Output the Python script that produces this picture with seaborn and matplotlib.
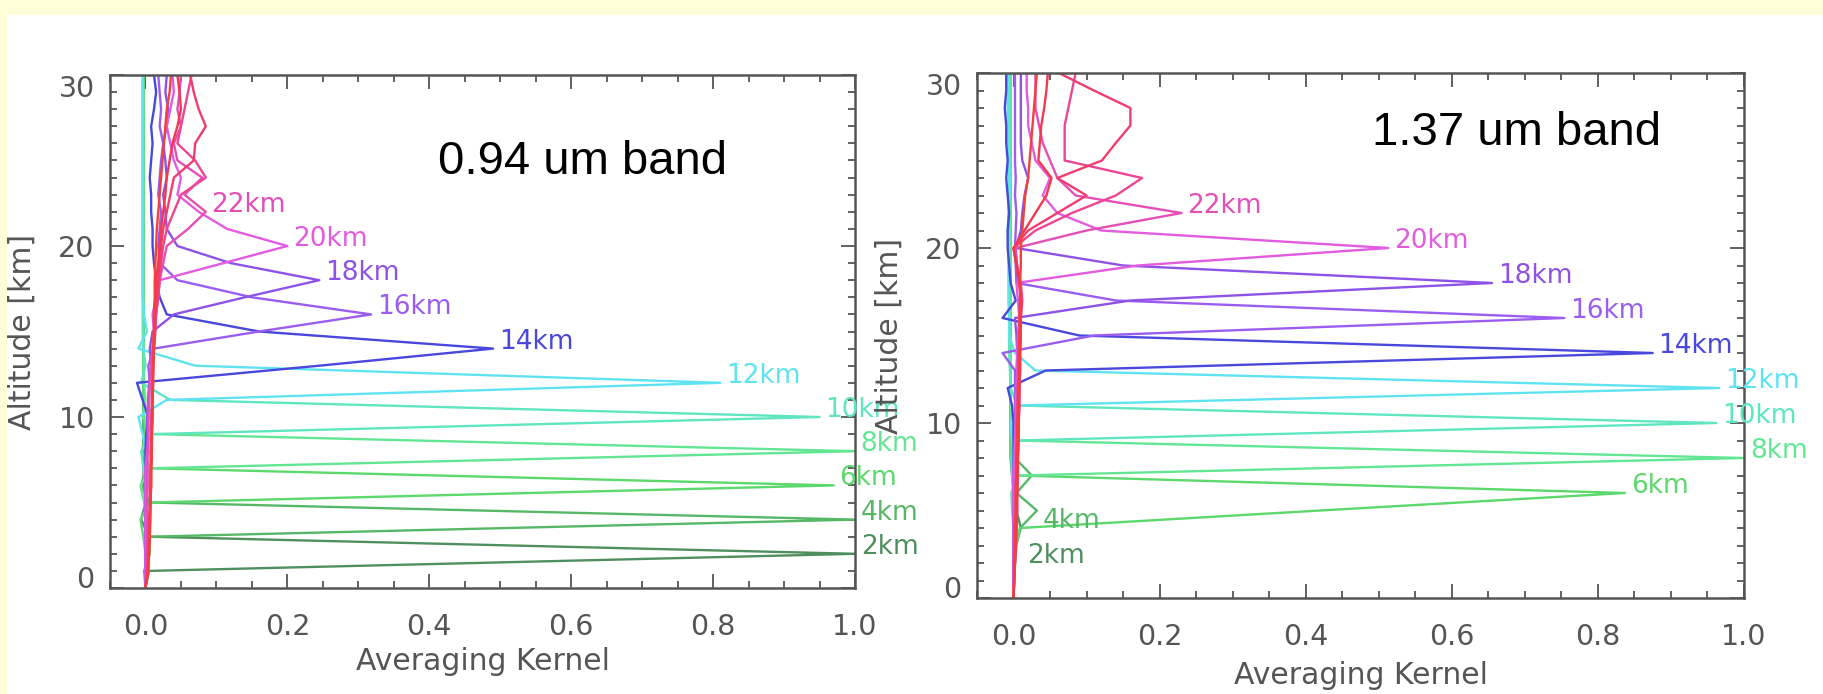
import matplotlib
matplotlib.use("Agg")
import matplotlib.pyplot as plt
from matplotlib.patches import Rectangle
from matplotlib.ticker import MultipleLocator, FixedLocator
import numpy as np
import pandas as pd
import seaborn as sns

# ---------------------------------------------------------------------------
# Averaging kernels on a 1 km altitude grid (0 ... 30 km)
# ---------------------------------------------------------------------------
altitude_km = list(range(31))
retrieval_levels = [2, 4, 6, 8, 10, 12, 14, 16, 18, 20, 22, 24, 26, 28, 30]
labelled_levels = [2, 4, 6, 8, 10, 12, 14, 16, 18, 20, 22]

# 0.94 um band
ak094_02 = [0.000, 0.005, 1.000, 0.005, -0.006, 0.000, -0.002, -0.003, -0.003, -0.003,
            -0.003, -0.003, -0.003, -0.003, -0.003, -0.003, -0.003, -0.003, -0.003, -0.003,
            -0.003, -0.003, -0.003, -0.003, -0.003, -0.003, -0.003, -0.003, -0.003, -0.003, -0.003]
ak094_04 = [0.000, -0.002, 0.006, 0.005, 1.000, 0.006, -0.006, 0.000, -0.002, -0.003,
            -0.003, -0.003, -0.003, -0.003, -0.003, -0.003, -0.003, -0.003, -0.003, -0.003,
            -0.003, -0.003, -0.003, -0.003, -0.003, -0.003, -0.003, -0.003, -0.003, -0.003, -0.003]
ak094_06 = [0.000, 0.000, 0.000, -0.003, -0.007, 0.006, 0.970, 0.007, -0.005, 0.000,
            -0.002, -0.003, -0.003, -0.003, -0.003, -0.003, -0.003, -0.003, -0.003, -0.003,
            -0.003, -0.003, -0.003, -0.003, -0.003, -0.003, -0.003, -0.003, -0.003, -0.003, -0.003]
ak094_08 = [0.000, 0.000, 0.000, 0.000, 0.001, -0.002, -0.007, 0.007, 1.000, 0.010,
            -0.004, 0.000, -0.002, -0.003, -0.003, -0.003, -0.003, -0.003, -0.003, -0.003,
            -0.003, -0.003, -0.003, -0.003, -0.003, -0.003, -0.003, -0.003, -0.003, -0.003, -0.003]
ak094_10 = [0.000, 0.000, 0.000, 0.000, 0.000, 0.000, 0.001, -0.003, -0.006, 0.010,
            0.950, 0.035, -0.006, 0.000, -0.003, -0.004, -0.004, -0.004, -0.004, -0.004,
            -0.004, -0.004, -0.004, -0.004, -0.004, -0.004, -0.004, -0.004, -0.004, -0.004, -0.004]
ak094_12 = [0.000, 0.000, 0.000, 0.000, 0.000, 0.000, 0.000, 0.000, 0.001, -0.004,
            -0.010, 0.030, 0.810, 0.070, -0.010, 0.002, -0.002, -0.004, -0.004, -0.004,
            -0.004, -0.004, -0.004, -0.004, -0.004, -0.004, -0.004, -0.004, -0.004, -0.004, -0.004]
ak094_14 = [0.000, 0.000, 0.000, 0.000, 0.000, 0.000, 0.000, 0.000, 0.000, 0.001,
            0.004, -0.004, -0.012, 0.245, 0.490, 0.160, 0.030, 0.020, 0.015, 0.012,
            0.010, 0.010, 0.008, 0.008, 0.006, 0.008, 0.010, 0.008, 0.012, 0.015, 0.012]
ak094_16 = [0.000, 0.000, 0.000, 0.000, 0.000, 0.000, 0.000, 0.000, 0.002, 0.003,
            0.002, 0.004, 0.006, 0.004, 0.012, 0.160, 0.318, 0.150, 0.045, 0.020,
            0.018, 0.020, 0.022, 0.018, 0.020, 0.022, 0.025, 0.020, 0.022, 0.020, 0.018]
ak094_18 = [0.000, 0.000, 0.000, 0.000, 0.000, 0.000, 0.000, 0.000, 0.002, 0.003,
            0.003, 0.004, 0.005, 0.008, 0.006, 0.010, 0.040, 0.140, 0.245, 0.120,
            0.045, 0.030, 0.028, 0.025, 0.030, 0.028, 0.025, 0.030, 0.032, 0.028, 0.030]
ak094_20 = [0.000, 0.000, 0.000, 0.000, 0.000, 0.000, 0.000, 0.000, 0.003, 0.004,
            0.004, 0.005, 0.006, 0.008, 0.010, 0.012, 0.010, 0.015, 0.020, 0.110,
            0.200, 0.115, 0.075, 0.045, 0.050, 0.040, 0.035, 0.030, 0.035, 0.040, 0.038]
ak094_22 = [0.000, 0.001, 0.001, 0.002, 0.002, 0.002, 0.003, 0.003, 0.003, 0.004,
            0.004, 0.005, 0.006, 0.008, 0.010, 0.012, 0.015, 0.018, 0.020, 0.025,
            0.030, 0.060, 0.085, 0.055, 0.080, 0.045, 0.040, 0.050, 0.045, 0.048, 0.050]
ak094_24 = [0.000, 0.002, 0.003, 0.004, 0.005, 0.006, 0.006, 0.007, 0.007, 0.008,
            0.008, 0.009, 0.010, 0.010, 0.012, 0.014, 0.015, 0.018, 0.020, 0.022,
            0.025, 0.030, 0.040, 0.050, 0.085, 0.070, 0.045, 0.050, 0.055, 0.060, 0.065]
ak094_26 = [0.000, 0.003, 0.004, 0.005, 0.006, 0.007, 0.007, 0.008, 0.008, 0.009,
            0.009, 0.010, 0.010, 0.011, 0.012, 0.013, 0.014, 0.016, 0.018, 0.020,
            0.022, 0.025, 0.030, 0.035, 0.040, 0.068, 0.070, 0.085, 0.075, 0.068, 0.063]
ak094_28 = [0.000, 0.004, 0.005, 0.006, 0.006, 0.007, 0.008, 0.008, 0.009, 0.009,
            0.010, 0.010, 0.011, 0.011, 0.012, 0.012, 0.013, 0.014, 0.015, 0.018,
            0.020, 0.022, 0.025, 0.028, 0.030, 0.034, 0.038, 0.045, 0.050, 0.048, 0.045]
ak094_30 = [0.000, 0.004, 0.005, 0.006, 0.007, 0.007, 0.008, 0.008, 0.009, 0.009,
            0.010, 0.010, 0.010, 0.011, 0.011, 0.012, 0.012, 0.013, 0.013, 0.014,
            0.015, 0.016, 0.018, 0.020, 0.022, 0.024, 0.026, 0.028, 0.030, 0.034, 0.036]

# 1.37 um band
ak137_02 = [0.000, 0.000, 0.001, 0.003, 0.010, 0.004, 0.000, -0.002, -0.004, -0.004,
            -0.004, -0.004, -0.004, -0.004, -0.004, -0.004, -0.004, -0.004, -0.004, -0.004,
            -0.004, -0.004, -0.004, -0.004, -0.004, -0.004, -0.004, -0.004, -0.004, -0.004, -0.004]
ak137_04 = [0.000, 0.000, 0.002, 0.004, 0.009, 0.032, 0.004, 0.025, 0.002, -0.003,
            -0.004, -0.004, -0.004, -0.004, -0.004, -0.004, -0.004, -0.004, -0.004, -0.004,
            -0.004, -0.004, -0.004, -0.004, -0.004, -0.004, -0.004, -0.004, -0.004, -0.004, -0.004]
ak137_06 = [0.000, 0.000, 0.000, 0.002, 0.009, 0.420, 0.837, 0.005, -0.004, -0.003,
            -0.004, -0.004, -0.004, -0.004, -0.004, -0.004, -0.004, -0.004, -0.004, -0.004,
            -0.004, -0.004, -0.004, -0.004, -0.004, -0.004, -0.004, -0.004, -0.004, -0.004, -0.004]
ak137_08 = [0.000, 0.000, 0.000, 0.000, 0.000, -0.002, -0.003, 0.005, 1.000, 0.005,
            -0.003, -0.004, -0.004, -0.004, -0.004, -0.004, -0.004, -0.004, -0.004, -0.004,
            -0.004, -0.004, -0.004, -0.004, -0.004, -0.004, -0.004, -0.004, -0.004, -0.004, -0.004]
ak137_10 = [0.000, 0.000, 0.000, 0.000, 0.000, 0.000, 0.000, -0.002, -0.003, 0.005,
            0.962, 0.005, -0.004, -0.005, -0.006, -0.006, -0.006, -0.006, -0.006, -0.006,
            -0.006, -0.006, -0.006, -0.006, -0.006, -0.006, -0.006, -0.006, -0.006, -0.006, -0.006]
ak137_12 = [0.000, 0.000, 0.000, 0.000, 0.000, 0.000, 0.000, 0.000, 0.000, -0.002,
            -0.004, 0.005, 0.966, 0.030, 0.002, -0.006, -0.006, -0.007, -0.007, -0.007,
            -0.007, -0.008, -0.007, -0.006, -0.005, -0.006, -0.007, -0.008, -0.008, -0.008, -0.008]
ak137_14 = [0.000, 0.000, 0.000, 0.000, 0.000, 0.000, 0.000, 0.000, 0.000, 0.000,
            0.000, -0.002, -0.008, 0.044, 0.875, 0.090, -0.015, 0.003, -0.004, -0.006,
            -0.008, -0.008, -0.006, -0.008, -0.010, -0.008, -0.010, -0.010, -0.012, -0.010, -0.010]
ak137_16 = [0.000, 0.000, 0.000, 0.000, 0.000, 0.000, 0.000, 0.000, 0.001, 0.002,
            0.002, 0.002, 0.002, 0.002, -0.015, 0.110, 0.754, 0.140, 0.004, 0.003,
            0.002, 0.003, 0.004, 0.002, 0.003, 0.002, 0.002, 0.002, 0.002, 0.002, 0.002]
ak137_18 = [0.000, 0.000, 0.000, 0.000, 0.000, 0.000, 0.000, 0.000, 0.001, 0.002,
            0.003, 0.003, 0.004, 0.004, 0.005, 0.004, 0.002, 0.160, 0.655, 0.150,
            0.003, 0.010, 0.012, 0.015, 0.020, 0.012, 0.010, 0.010, 0.010, 0.010, 0.010]
ak137_20 = [0.000, 0.000, 0.000, 0.000, 0.000, 0.000, 0.000, 0.000, 0.001, 0.002,
            0.003, 0.003, 0.004, 0.005, 0.005, 0.006, 0.008, 0.006, 0.004, 0.170,
            0.513, 0.120, 0.060, 0.040, 0.050, 0.030, 0.025, 0.020, 0.020, 0.018, 0.018]
ak137_22 = [0.000, 0.000, 0.000, 0.001, 0.001, 0.002, 0.002, 0.003, 0.003, 0.004,
            0.004, 0.005, 0.006, 0.006, 0.007, 0.008, 0.008, 0.010, 0.008, 0.005,
            0.003, 0.100, 0.230, 0.085, 0.060, 0.050, 0.040, 0.035, 0.030, 0.030, 0.030]
ak137_24 = [0.000, 0.001, 0.002, 0.003, 0.004, 0.005, 0.005, 0.006, 0.006, 0.007,
            0.007, 0.008, 0.008, 0.009, 0.009, 0.010, 0.010, 0.012, 0.010, 0.005,
            0.000, 0.030, 0.080, 0.140, 0.176, 0.070, 0.070, 0.070, 0.075, 0.080, 0.085]
ak137_26 = [0.000, 0.001, 0.002, 0.003, 0.004, 0.005, 0.005, 0.006, 0.006, 0.007,
            0.007, 0.008, 0.008, 0.009, 0.009, 0.010, 0.010, 0.011, 0.008, 0.004,
            0.000, 0.020, 0.060, 0.100, 0.060, 0.121, 0.140, 0.160, 0.160, 0.110, 0.062]
ak137_28 = [0.000, 0.001, 0.002, 0.003, 0.004, 0.004, 0.005, 0.005, 0.006, 0.006,
            0.007, 0.007, 0.008, 0.008, 0.009, 0.009, 0.010, 0.010, 0.008, 0.004,
            0.000, 0.015, 0.030, 0.045, 0.052, 0.034, 0.036, 0.038, 0.042, 0.045, 0.047]
ak137_30 = [0.000, 0.001, 0.001, 0.002, 0.002, 0.003, 0.003, 0.004, 0.004, 0.005,
            0.005, 0.006, 0.006, 0.007, 0.007, 0.008, 0.008, 0.009, 0.009, 0.010,
            0.010, 0.012, 0.014, 0.016, 0.020, 0.022, 0.024, 0.026, 0.028, 0.030, 0.032]

kernels_094 = dict(zip(retrieval_levels, [
    ak094_02, ak094_04, ak094_06, ak094_08, ak094_10, ak094_12, ak094_14, ak094_16,
    ak094_18, ak094_20, ak094_22, ak094_24, ak094_26, ak094_28, ak094_30]))
kernels_137 = dict(zip(retrieval_levels, [
    ak137_02, ak137_04, ak137_06, ak137_08, ak137_10, ak137_12, ak137_14, ak137_16,
    ak137_18, ak137_20, ak137_22, ak137_24, ak137_26, ak137_28, ak137_30]))

panel_titles = ["0.94 um band", "1.37 um band"]

# colour for each retrieval level (green -> cyan -> blue -> purple -> red)
level_colors = {
    2: "#4f8f5e", 4: "#56b866", 6: "#5cd86c", 8: "#62e693", 10: "#5fe6bf",
    12: "#5fe3f0", 14: "#4947dc", 16: "#9a5df0", 18: "#8e52e6", 20: "#e25be0",
    22: "#e34fb4", 24: "#ee4592", 26: "#f03d6e", 28: "#f2394f", 30: "#f4403a",
}


def long_table(kernels):
    rows = []
    for lev in retrieval_levels:
        for z, v in zip(altitude_km, kernels[lev]):
            rows.append({"level": lev, "altitude": z, "kernel": v})
    return pd.DataFrame(rows)


sns.set_theme(style="white")
plt.rcParams["font.family"] = ["DejaVu Sans"]

fig = plt.figure(figsize=(18.23, 6.94), dpi=100)
fig.patch.set_facecolor("white")

# pale yellow frame along the top and left edges
frame_col = "#fffcd8"
fig.add_artist(Rectangle((0, 1 - 15 / 694), 1, 15 / 694, transform=fig.transFigure,
                         facecolor=frame_col, edgecolor="none", zorder=-5))
fig.add_artist(Rectangle((0, 0), 7 / 1823, 1, transform=fig.transFigure,
                         facecolor=frame_col, edgecolor="none", zorder=-5))

W, H = 1823.0, 694.0
ax_boxes = [
    (110 / W, 1 - 588 / H, 745 / W, 513 / H),
    (977 / W, 1 - 598 / H, 767 / W, 525 / H),
]
title_pos = [(0.44, 0.83), (0.515, 0.885)]
ylabel_x = [-0.099, -0.095]
xlabel_y = [-0.115, -0.12]

grey = "#555555"
tick_fs = 20.5
label_fs = 21.5

for i, (box, kernels) in enumerate(zip(ax_boxes, [kernels_094, kernels_137])):
    ax = fig.add_axes(box)
    df = long_table(kernels)
    sns.lineplot(data=df, x="kernel", y="altitude", hue="level",
                 palette=level_colors, estimator=None, sort=False, orient="y",
                 legend=False, linewidth=1.7, ax=ax)

    ax.set_xlim(-0.05, 1.0)
    ax.set_ylim(0, 30)

    for lev in labelled_levels:
        peak = max(kernels[lev])
        ax.text(peak + 0.008, lev, f"{lev}km", color=level_colors[lev],
                fontsize=19, ha="left", va="baseline", clip_on=False, zorder=5)

    ax.text(title_pos[i][0], title_pos[i][1], panel_titles[i], transform=ax.transAxes,
            fontsize=34, family="Liberation Sans", color="black",
            ha="left", va="center")

    ax.set_xlabel("Averaging Kernel", fontsize=label_fs, color=grey)
    ax.set_ylabel("Altitude [km]", fontsize=label_fs, color=grey)
    ax.xaxis.set_label_coords(0.5, xlabel_y[i])
    ax.yaxis.set_label_coords(ylabel_x[i], 0.5)

    ax.xaxis.set_major_locator(FixedLocator([0.0, 0.2, 0.4, 0.6, 0.8, 1.0]))
    ax.xaxis.set_minor_locator(MultipleLocator(0.05))
    ax.yaxis.set_major_locator(FixedLocator([0, 10, 20, 30]))
    ax.yaxis.set_minor_locator(MultipleLocator(1))
    ax.set_xticklabels(["0.0", "0.2", "0.4", "0.6", "0.8", "1.0"])
    ax.set_yticklabels(["0", "10", "20", "30"])
    ax.tick_params(which="both", direction="in", top=True, right=True,
                   bottom=True, left=True, color=grey, labelcolor=grey,
                   labelsize=tick_fs)
    ax.tick_params(which="major", length=10, width=1.3)
    ax.tick_params(which="minor", length=5, width=1.3)
    ax.tick_params(axis="x", pad=18)
    ax.tick_params(axis="y", pad=11)
    for lab in ax.get_yticklabels():
        if lab.get_text() == "30":
            lab.set_va("top")
        elif lab.get_text() == "0":
            lab.set_va("baseline")
    for sp in ax.spines.values():
        sp.set_color(grey)
        sp.set_linewidth(1.8)
        sp.set_visible(True)
    ax.set_facecolor("white")

fig.savefig("out.png", dpi=100, facecolor=fig.get_facecolor())
